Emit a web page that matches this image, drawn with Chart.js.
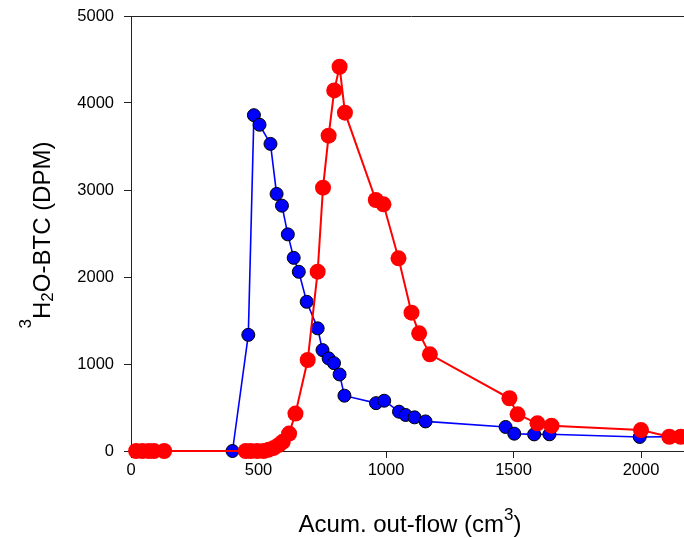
<!DOCTYPE html>
<html>
<head>
<meta charset="utf-8">
<script src="https://cdn.jsdelivr.net/npm/chart.js@4/dist/chart.umd.min.js"></script>
<style>
  html, body { margin: 0; padding: 0; background: #fff; width: 684px; height: 538px; overflow: hidden; }
  #wrap { position: relative; width: 700px; height: 538px; }
</style>
</head>
<body>
<div id="wrap"><canvas id="btc" width="700" height="538"></canvas></div>
<script>
// Breakthrough curves: cumulative out-flow (cm3) vs. tritiated water activity (DPM)
const blueFlow = [398, 460, 482, 504, 547, 571, 592, 615, 638, 658, 689, 732, 751, 775, 796, 818, 837,
                  961, 993, 1051, 1077, 1112, 1155, 1469, 1503, 1581, 1641, 1995, 2150];
const blueDpm  = [0, 1335, 3860, 3750, 3530, 2955, 2820, 2490, 2220, 2060, 1715, 1410, 1160, 1065, 1010, 880, 636,
                  550, 578, 452, 414, 387, 340, 276, 199, 191, 192, 161, 165];

const redFlow = [20, 45, 70, 90, 130, 450, 470, 495, 520, 540, 560, 580, 595, 620, 645,
                 693, 732, 753, 775, 797, 818, 839, 960, 990, 1049, 1100, 1130, 1172,
                 1484, 1516, 1594, 1649, 2000, 2111, 2156];
const redDpm  = [0, 0, 0, 0, 0, 0, 0, 0, 0, 15, 35, 70, 105, 200, 430,
                 1046, 2061, 3027, 3624, 4145, 4417, 3889, 2885, 2835, 2215, 1590, 1353, 1111,
                 606, 421, 318, 291, 241, 164, 164];

const xTicks = [0, 500, 1000, 1500, 2000];
const yTicks = [0, 1000, 2000, 3000, 4000, 5000];

const FONT = "'Liberation Sans', Arial, sans-serif";

function toPoints(xs, ys) {
  return xs.map((x, i) => ({ x: x, y: ys[i] }));
}

// draws a string made of normal / superscript / subscript pieces
function drawRich(ctx, parts, cx, cy, size) {
  let total = 0;
  parts.forEach(p => {
    ctx.font = (p.size || size) + 'px ' + FONT;
    p.w = ctx.measureText(p.t).width;
    total += p.w;
  });
  let x = cx - total / 2;
  parts.forEach(p => {
    ctx.font = (p.size || size) + 'px ' + FONT;
    ctx.fillText(p.t, x, cy + (p.dy || 0));
    x += p.w;
  });
}

const framePlugin = {
  id: 'frame',
  afterDraw(chart) {
    const { ctx, chartArea } = chart;
    ctx.save();
    ctx.strokeStyle = '#222';
    ctx.lineWidth = 1;
    ctx.beginPath();
    ctx.moveTo(chartArea.left, chartArea.top + 0.5);
    ctx.lineTo(chartArea.right, chartArea.top + 0.5);
    ctx.lineTo(chartArea.right, chartArea.bottom);
    ctx.stroke();

    ctx.fillStyle = '#000';
    ctx.textBaseline = 'alphabetic';
    ctx.textAlign = 'left';

    // x title
    drawRich(ctx, [
      { t: 'Acum. out-flow (cm' },
      { t: '3', size: 17, dy: -12 },
      { t: ')' }
    ], 410, 532, 24);

    // y title, rotated
    ctx.translate(50, 235);
    ctx.rotate(-Math.PI / 2);
    drawRich(ctx, [
      { t: '3', size: 17, dy: -19 },
      { t: 'H' },
      { t: '2', size: 17, dy: 3 },
      { t: 'O-BTC (DPM)' }
    ], 0, 0, 24);
    ctx.restore();
  }
};

const plain = v => String(v);

new Chart(document.getElementById('btc'), {
  type: 'line',
  data: {
    datasets: [
      {
        data: toPoints(redFlow, redDpm),
        borderColor: '#ff0000',
        backgroundColor: '#ff0000',
        borderWidth: 2,
        pointRadius: 8,
        pointBorderWidth: 0,
        pointBackgroundColor: '#ff0000',
        tension: 0,
        clip: false
      },
      {
        data: toPoints(blueFlow, blueDpm),
        borderColor: '#0000ff',
        backgroundColor: '#0000ff',
        borderWidth: 1.6,
        pointRadius: 6.5,
        pointBorderWidth: 1,
        pointBorderColor: '#000',
        pointBackgroundColor: '#0000ff',
        tension: 0,
        clip: false
      }
    ]
  },
  options: {
    responsive: false,
    animation: false,
    devicePixelRatio: 1,
    layout: { padding: { top: 16, right: 5, left: 0, bottom: 0 } },
    plugins: { legend: { display: false }, tooltip: { enabled: false } },
    scales: {
      x: {
        type: 'linear',
        min: 0,
        max: 2200,
        afterBuildTicks: s => { s.ticks = xTicks.map(v => ({ value: v })); },
        afterFit: s => { s.height = 87; s.paddingLeft = 0; s.paddingRight = 0; },
        ticks: { color: '#000', padding: 3, callback: plain, font: { family: FONT, size: 16.5 } },
        grid: { drawOnChartArea: false, drawTicks: true, tickLength: 7, color: '#222' },
        border: { color: '#222', width: 1 }
      },
      y: {
        min: 0,
        max: 5000,
        afterBuildTicks: s => { s.ticks = yTicks.map(v => ({ value: v })); },
        afterFit: s => { s.width = 131; s.paddingTop = 0; s.paddingBottom = 0; },
        ticks: { color: '#000', padding: 10, callback: plain, font: { family: FONT, size: 16.5 } },
        grid: { drawOnChartArea: false, drawTicks: true, tickLength: 7, color: '#222' },
        border: { color: '#222', width: 1 }
      }
    }
  },
  plugins: [framePlugin]
});
</script>
</body>
</html>
